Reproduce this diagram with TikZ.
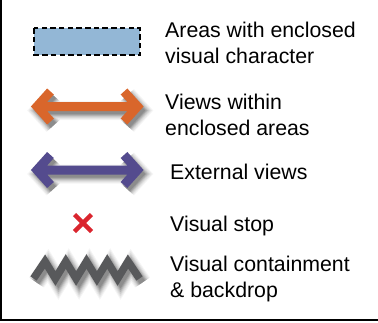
\documentclass[tikz,border=0pt]{standalone}
\usepackage{fontspec}
\setmainfont{Liberation Sans}
\definecolor{areablue}{HTML}{93B7D6}
\definecolor{vieworange}{HTML}{D9662B}
\definecolor{viewpurple}{HTML}{544B8E}
\definecolor{stopred}{HTML}{DA252E}
\definecolor{wallgray}{HTML}{58595B}
\tikzset{
  lbl/.style={anchor=base west, inner sep=0pt, font=\fontsize{21.3}{25.5}\selectfont, align=left},
  shadowlayer/.style={black, line join=miter, shift={(3,4)}},
}
\newcommand\legendarrow[2]{%
  \foreach \w/\o in {19/0.04,17/0.05,15/0.06,13/0.08,11/0.10,9/0.12,7/0.12}{%
    \draw[shadowlayer, opacity=\o, line width=\w]
      (50.5,#1-15) -- (37,#1) -- (50.5,#1+15)
      (37,#1) -- (137.5,#1)
      (124,#1-15) -- (137.5,#1) -- (124,#1+15);}
  \draw[#2, line width=9, line join=miter]
      (50.5,#1-15) -- (37,#1) -- (50.5,#1+15)
      (37,#1) -- (137.5,#1)
      (124,#1-15) -- (137.5,#1) -- (124,#1+15);
}
\newcommand\zigzagpath{(33.5,278.5) -- (45,261.5) -- (55.4,278.5) -- (65.75,261.5) -- (76.1,278.5) -- (86.5,261.5) -- (96.9,278.5) -- (107.25,261.5) -- (117.6,278.5) -- (128,261.5) -- (139.5,278.5)}
\begin{document}
\begin{tikzpicture}[x=1pt, y=-1pt]
  \useasboundingbox (0,0) rectangle (378,322);
  % frame (left and bottom edges)
  \draw[line width=2.2] (1.1,0) -- (1.1,320) -- (378,320);
  % enclosed area
  \draw[fill=areablue, line width=2.2, dash pattern=on 5.5 off 3.2] (34.1,28.1) rectangle (139.9,54.9);
  % views within enclosed areas
  \legendarrow{106.5}{vieworange}
  % external views
  \legendarrow{170}{viewpurple}
  % visual stop
  \draw[stopred, line width=4.5] (74.5,214.5) -- (91.5,231.5) (74.5,231.5) -- (91.5,214.5);
  % visual containment
  \foreach \w/\o in {18/0.04,16/0.05,14/0.06,12/0.08,10/0.10,8/0.12,6/0.12}{%
    \draw[shadowlayer, opacity=\o, line width=\w] \zigzagpath;}
  \draw[wallgray, line width=7.6, line join=miter] \zigzagpath;
  % labels (anchored at the baseline of the last line)
  \node[lbl] (areas) at (165,63) {Areas with enclosed\\visual character};
  \node[lbl] (within) at (165,135) {Views within\\enclosed areas};
  \node[lbl] (external) at (170,179) {External views};
  \node[lbl] (stop) at (170,231) {Visual stop};
  \node[lbl] (contain) at (170,297) {Visual containment\\\& backdrop};
\end{tikzpicture}
\end{document}
